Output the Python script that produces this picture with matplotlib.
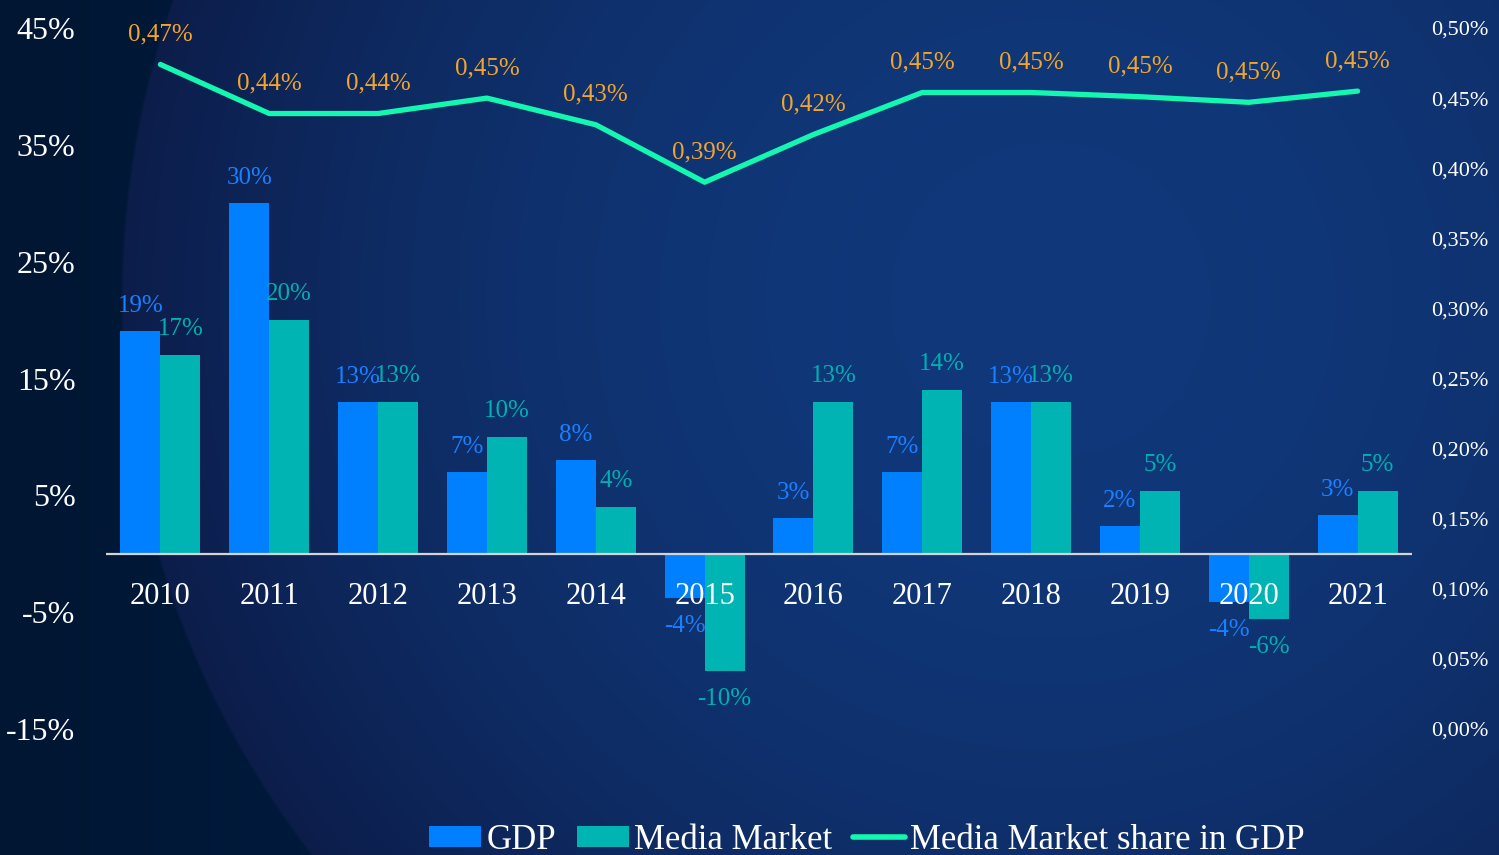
import numpy as np
import matplotlib
matplotlib.use("Agg")
import matplotlib.pyplot as plt
from matplotlib.patches import Patch
from matplotlib.lines import Line2D
from matplotlib.ticker import FuncFormatter

# ---------------- data ----------------
years = ["2010", "2011", "2012", "2013", "2014", "2015",
         "2016", "2017", "2018", "2019", "2020", "2021"]
gdp_growth = [19.1, 30.0, 13.0, 7.0, 8.0, -3.8, 3.1, 7.0, 13.0, 2.4, -4.1, 3.3]
media_growth = [17.0, 20.0, 13.0, 10.0, 4.0, -10.0, 13.0, 14.0, 13.0, 5.4, -5.6, 5.4]
media_share = [0.474, 0.439, 0.439, 0.450, 0.431, 0.390,
               0.424, 0.454, 0.454, 0.451, 0.447, 0.455]
share_labels = ["0,47%", "0,44%", "0,44%", "0,45%", "0,43%", "0,39%",
                "0,42%", "0,45%", "0,45%", "0,45%", "0,45%", "0,45%"]
left_ticks = [-15, -5, 5, 15, 25, 35, 45]
right_ticks = [0.00, 0.05, 0.10, 0.15, 0.20, 0.25, 0.30, 0.35, 0.40, 0.45, 0.50]

# ---------------- style ----------------
SERIF = ["Liberation Serif", "DejaVu Serif"]
plt.rcParams["font.family"] = SERIF
C_GDP = "#0080ff"
C_MEDIA = "#00b4b4"
C_LINE = "#14f7b0"
C_SHARE_LBL = "#f2a52c"
C_GDP_LBL = "#1a80ff"
C_MEDIA_LBL = "#00b0b0"

W, H = 1499, 855
fig = plt.figure(figsize=(W / 100, H / 100), dpi=100)

# background gradient
bg = fig.add_axes([0, 0, 1, 1], zorder=-10)
yy, xx = np.mgrid[0:H, 0:W]
r = np.sqrt(((xx - 1050) / 930.0) ** 2 + ((yy - 300) / 916.0) ** 2)
light = np.array([0x10, 0x38, 0x7a]) / 255.0
edge_in = np.array([0x0c, 0x1d, 0x4a]) / 255.0
outside = np.array([0x01, 0x1a, 0x3c]) / 255.0
outside2 = np.array([0x00, 0x16, 0x32]) / 255.0
t_in = np.clip(r, 0, 1) ** 2.2
img_in = light[None, None, :] * (1 - t_in[..., None]) + edge_in[None, None, :] * t_in[..., None]
tx = np.clip(xx / 300.0, 0, 1)
img_out = outside2[None, None, :] * (1 - tx[..., None]) + outside[None, None, :] * tx[..., None]
mask = np.clip((1.0 - r) * 300, 0, 1)[..., None]
img = img_in * mask + img_out * (1 - mask)
bg.imshow(img, aspect="auto", extent=[0, 1, 0, 1], origin="upper")
bg.axis("off")

# main axes
left, right = 106 / W, 1412 / W
bottom, top = 1 - 729 / H, 1 - 28 / H
ax = fig.add_axes([left, bottom, right - left, top - bottom])
ax.patch.set_alpha(0)

x = np.arange(len(years))
bw = 0.367
ax.bar(x - bw / 2, gdp_growth, bw, color=C_GDP, zorder=1)
ax.bar(x + bw / 2, media_growth, bw, color=C_MEDIA, zorder=1)
ax.axhline(0, color="#d4d4d4", lw=1.6, zorder=3)

ax.set_xlim(-0.5, 11.5)
ax.set_ylim(-15, 45)
ax.set_yticks(left_ticks)
ax.yaxis.set_major_formatter(FuncFormatter(lambda v, p: f"{v:.0f}%"))
ax.tick_params(axis="y", length=0, pad=22, labelsize=23, labelcolor="white")
ax.set_xticks(x)
ax.set_xticklabels(years)
ax.spines["bottom"].set_position(("data", 0))
for s in ax.spines.values():
    s.set_visible(False)
ax.tick_params(axis="x", length=0, pad=20, labelsize=22, labelcolor="white")
ax.xaxis.set_zorder(5)

for xi, v in zip(x, gdp_growth):
    off = 25 if v >= 0 else -28
    ax.annotate(f"{v:.0f}%", (xi - bw / 2, v), xytext=(0, off * 0.72),
                textcoords="offset points", ha="center", va="center",
                color=C_GDP_LBL, fontsize=18, zorder=6)
for xi, v in zip(x, media_growth):
    off = 26 if v >= 0 else -28
    ax.annotate(f"{v:.0f}%", (xi + bw / 2, v), xytext=(0, off * 0.72),
                textcoords="offset points", ha="center", va="center",
                color=C_MEDIA_LBL, fontsize=18, zorder=6)

# secondary axis
ax2 = ax.twinx()
ax2.set_ylim(0, 0.5)
ax2.set_yticks(right_ticks)
ax2.yaxis.set_major_formatter(FuncFormatter(lambda v, p: f"{v:.2f}%".replace(".", ",")))
ax2.tick_params(axis="y", length=0, pad=14, labelsize=16, labelcolor="white")
for s in ax2.spines.values():
    s.set_visible(False)
ax2.plot(x, media_share, color=C_LINE, lw=3.8, solid_capstyle="round",
         solid_joinstyle="round", zorder=4)
for xi, v, lab in zip(x, media_share, share_labels):
    ax2.annotate(lab, (xi, v), xytext=(0, 30 * 0.72), textcoords="offset points",
                 ha="center", va="center", color=C_SHARE_LBL, fontsize=18)

# legend
handles = [Patch(facecolor=C_GDP, edgecolor="none"),
           Patch(facecolor=C_MEDIA, edgecolor="none"),
           Line2D([0], [0], color=C_LINE, lw=4, solid_capstyle="round")]
labels = ["GDP", "Media Market", "Media Market share in GDP"]
fig.legend(handles, labels, loc="center", bbox_to_anchor=(867 / W, 1 - 840 / H),
           ncol=3, frameon=False, fontsize=25, labelcolor="white",
           handlelength=1.5, handleheight=0.55, handletextpad=0.15,
           columnspacing=0.6, borderpad=0, borderaxespad=0)

fig.savefig("out.png", dpi=100)
